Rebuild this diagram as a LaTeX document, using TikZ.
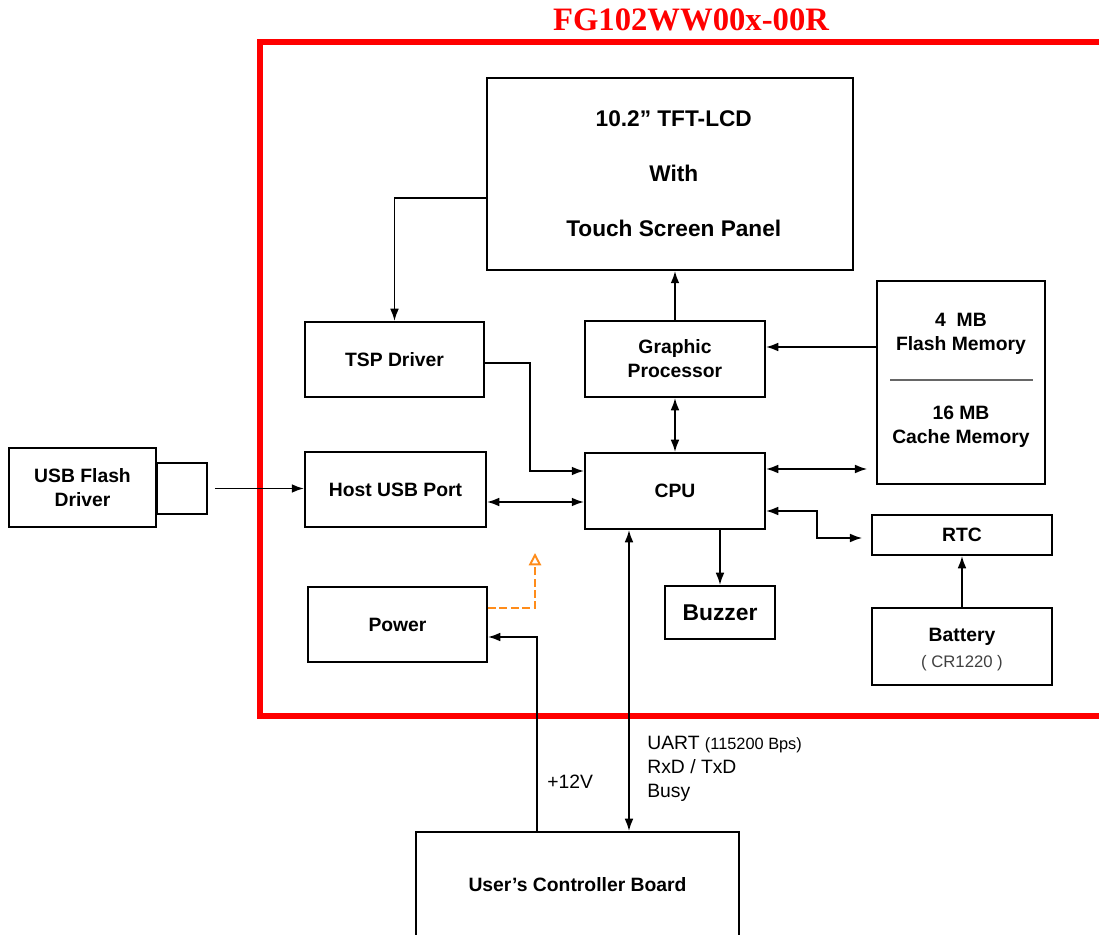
\documentclass[tikz,border=0pt]{standalone}
\usepackage{fontspec}
\setmainfont{Liberation Sans}
\newfontfamily\titlefont{Liberation Serif}
\usetikzlibrary{arrows.meta}
\definecolor{frame}{RGB}{255,0,0}
\definecolor{orng}{RGB}{255,140,26}
\begin{document}
\begin{tikzpicture}[
    x=0.02cm, y=-0.02cm,
    blk/.style={rectangle, draw=black, line width=1.1pt, text centered, align=center, inner sep=0pt, font=\fontsize{11}{13.6}\selectfont\bfseries},
    conn/.style={line width=1pt, -{Latex[length=7pt,width=5pt]}},
    biconn/.style={line width=1pt, {Latex[length=7pt,width=5pt]}-{Latex[length=7pt,width=5pt]}},
    note/.style={anchor=west, align=left, inner sep=0pt, font=\fontsize{11}{13.6}\selectfont}
  ]
    \useasboundingbox (0,0) rectangle (1099,935);

    % title and module frame
    \node[text=frame, font=\fontsize{18.6}{20}\selectfont\titlefont\bfseries] (title) at (691,20) {FG102WW00x-00R};
    \draw[frame, line width=3.2pt] (1099,42) -- (260,42) -- (260,716) -- (1099,716);

    \node[blk, minimum width=7.32cm, minimum height=3.84cm, font=\fontsize{12.9}{31.2}\selectfont\bfseries] (lcd) at (670,174) {\hspace*{0.15cm}10.2” TFT-LCD\\\hspace*{0.15cm}With\\\hspace*{0.15cm}Touch Screen Panel};
    \node[blk, minimum width=3.58cm, minimum height=1.5cm] (tsp) at (394.5,359.5) {TSP Driver};
    \node[blk, minimum width=3.6cm, minimum height=1.52cm] (gp) at (675,359) {Graphic\\Processor};
    \node[blk, minimum width=3.36cm, minimum height=4.06cm] (mem) at (961,382.5) {};
    \node[font=\fontsize{11}{13.6}\selectfont\bfseries, align=center] (flash) at (961,334) {4\ \ MB\\Flash Memory};
    \node[font=\fontsize{11}{13.6}\selectfont\bfseries, align=center] (cache) at (961,427) {16 MB\\Cache Memory};
    \draw[black!60, line width=0.6pt] (890,380) -- (1033,380);

    \node[blk, minimum width=2.94cm, minimum height=1.58cm] (usb) at (82.5,487.5) {USB Flash\\Driver};
    \node[blk, minimum width=1.0cm, minimum height=1.02cm, anchor=west] (plug) at (156,488.5) {};
    \node[blk, minimum width=3.62cm, minimum height=1.5cm] (host) at (395.5,489.5) {Host USB Port};
    \node[blk, minimum width=3.6cm, minimum height=1.52cm] (cpu) at (675,491) {CPU};
    \node[blk, minimum width=3.6cm, minimum height=0.8cm] (rtc) at (962,535) {RTC};
    \node[blk, minimum width=3.58cm, minimum height=1.5cm] (power) at (397.5,624.5) {Power};
    \node[blk, minimum width=2.2cm, minimum height=1.06cm, font=\fontsize{13}{15}\selectfont\bfseries] (buzzer) at (720,612.5) {Buzzer};
    \node[blk, minimum width=3.6cm, minimum height=1.54cm] (batt) at (962,646.5) {};
    \node[font=\fontsize{11}{13.6}\selectfont\bfseries] (battname) at (962,637) {Battery};
    \node[text=black!75, font=\fontsize{9.5}{11}\selectfont] (batttype) at (962,663) {( CR1220 )};
    \node[blk, minimum width=6.46cm, minimum height=2.12cm] (ucb) at (577.5,885) {User’s Controller Board};

    \draw[conn] ([yshift=-0.48cm]lcd.west) -| (tsp.north);
    \draw[conn] (gp.north) -- (gp.north |- lcd.south);
    \draw[conn] (mem.west |- 0,347) -- (gp.east |- 0,347);
    \draw[biconn] (gp.south) -- (cpu.north);
    \draw[conn] (tsp.east |- 0,363) -| (530,471) -- (cpu.west |- 0,471);
    \draw[biconn] (host.east |- 0,502) -- (cpu.west |- 0,502);
    \draw[conn] ([xshift=0.14cm]plug.east) -- (host.west |- plug.east);
    \draw[biconn, shorten >=5pt] (cpu.east |- 0,469) -- (mem.west |- 0,469);
    \draw[biconn, shorten >=5pt] (cpu.east |- 0,511) -| (817,538) -- (rtc.west |- 0,538);
    \draw[conn] (cpu.south -| buzzer.north) -- (buzzer.north);
    \draw[conn] (batt.north) -- (rtc.south);
    \draw[biconn] (cpu.south -| 629,0) -- (ucb.north -| 629,0);
    \draw[conn] (ucb.north -| 537,0) |- (power.east |- 0,637);
    \draw[orng, line width=1.1pt, dash pattern=on 4.5pt off 2pt, -{Triangle[open, length=7pt, width=7pt]}] (power.east |- 0,608) -| (535,553);

    \node[note] (volt) at (547,782) {+12V};
    \node[note] (uart) at (647,769) {UART {\fontsize{9.3}{11}\selectfont(115200 Bps)}\\RxD / TxD\\Busy};

  \end{tikzpicture}
\end{document}
